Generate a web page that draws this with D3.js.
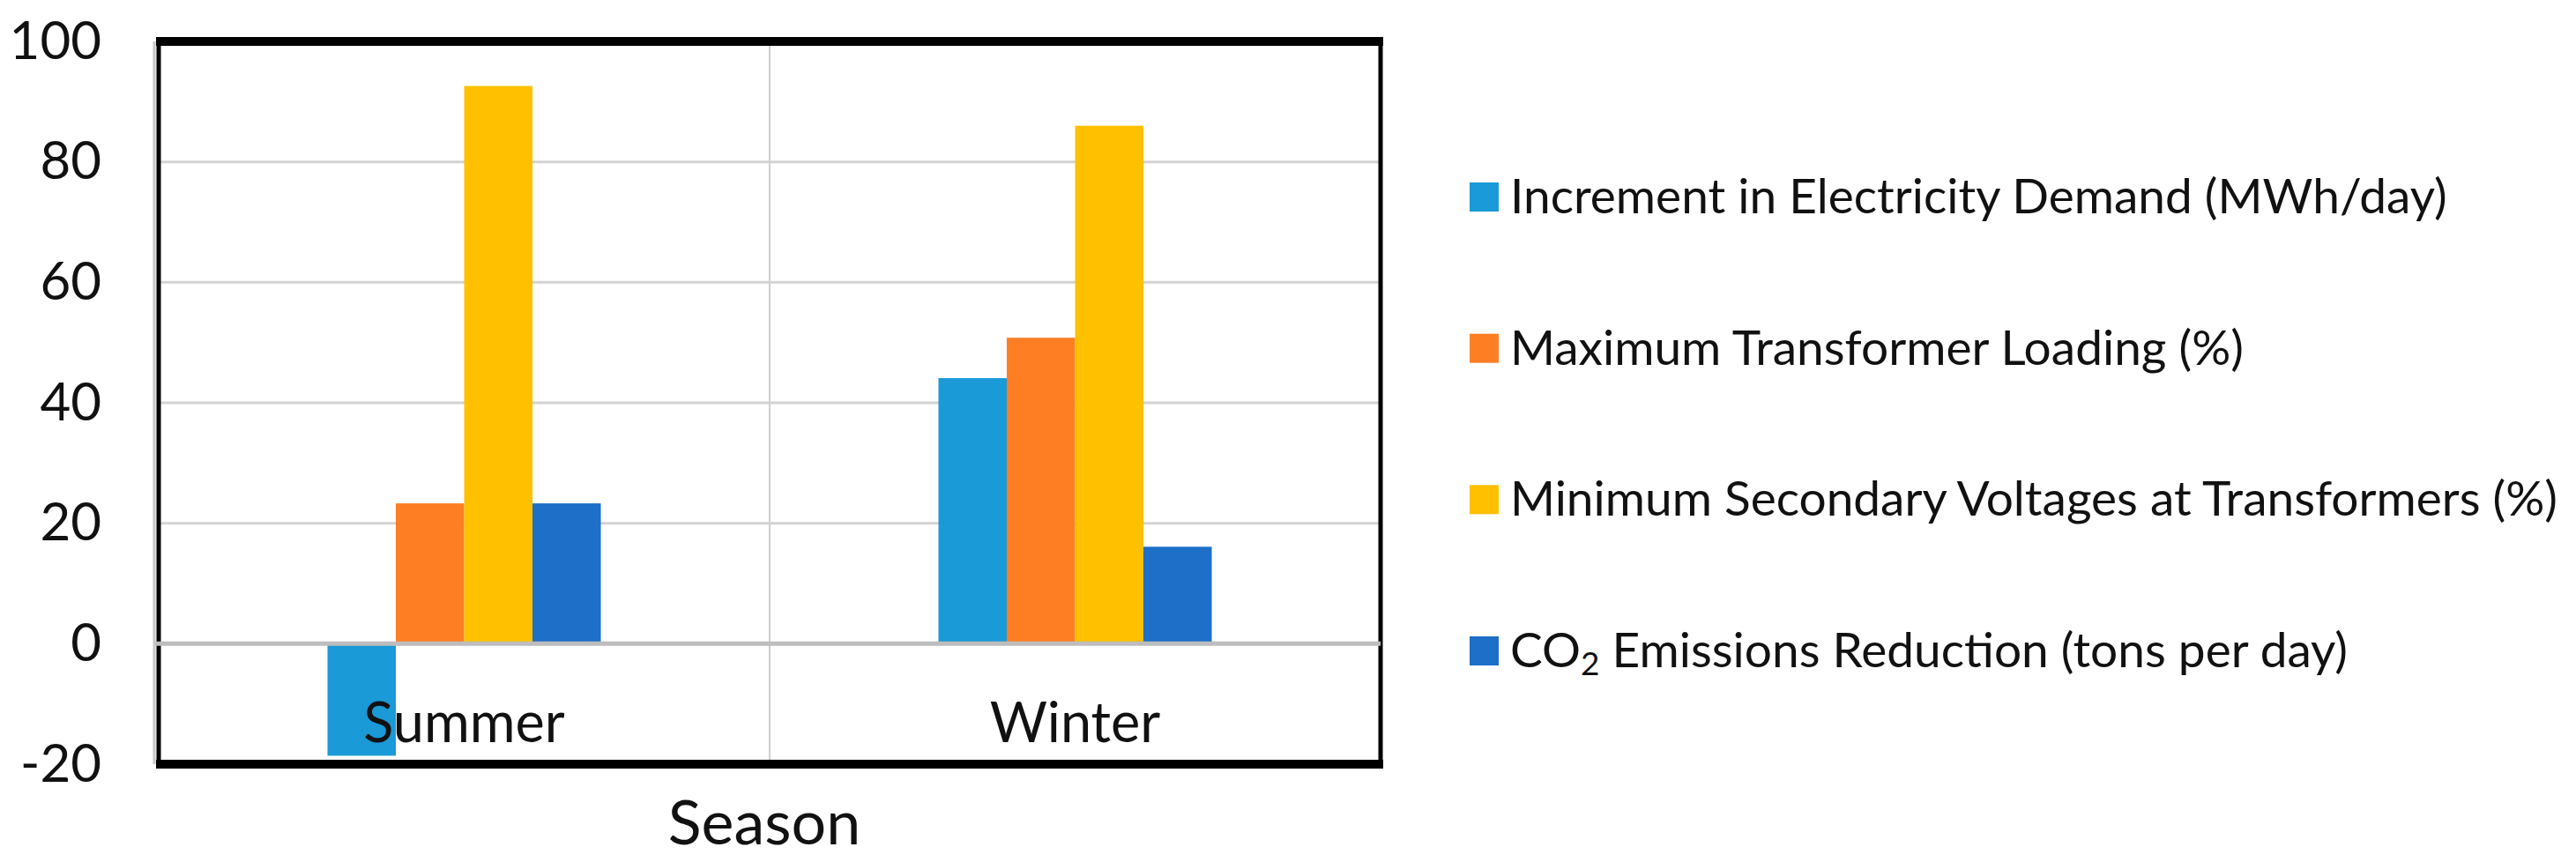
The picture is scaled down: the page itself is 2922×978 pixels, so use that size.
<!DOCTYPE html>
<html>
<head>
<meta charset="utf-8">
<script src="https://cdn.jsdelivr.net/npm/d3@7"></script>
<style>
  html, body { margin: 0; padding: 0; background: #ffffff; }
  svg { display: block; }
  text { font-family: Lato, "Open Sans", "Noto Sans", sans-serif; fill: #111; }
</style>
</head>
<body>
<svg id="chart" width="2922" height="978"></svg>
<script>
// ---- data ----
const categories = ["Summer", "Winter"];
const seriesNames = [
  "Increment in Electricity Demand (MWh/day)",
  "Maximum Transformer Loading (%)",
  "Minimum Secondary Voltages at Transformers (%)",
  "CO2 Emissions Reduction (tons per day)"
];
const incrementDemand   = [-18.6, 44.1];
const maxTransformer    = [23.3, 50.8];
const minSecondaryVolt  = [92.6, 86.0];
const co2Reduction      = [23.3, 16.1];
const yTickValues = [-20, 0, 20, 40, 60, 80, 100];
const xAxisTitle = "Season";
const seriesColors = ["#1A9AD7", "#FD7E23", "#FFC000", "#1D6FC8"];

const seriesValues = [incrementDemand, maxTransformer, minSecondaryVolt, co2Reduction];

// ---- layout ----
const svg = d3.select("#chart");
const plot = { left: 180, right: 1566, top: 47, bottom: 867 };
const groupWidth = 310;

const y = d3.scaleLinear().domain([-20, 100]).range([plot.bottom, plot.top]);
const x0 = d3.scaleBand().domain(categories).range([plot.left, plot.right]).padding(0);
const x1 = d3.scaleBand().domain(d3.range(seriesNames.length)).range([0, groupWidth]).padding(0);

// gridlines (excluding zero, drawn later)
svg.append("g").selectAll("line")
  .data(yTickValues.filter(v => v !== 0 && v !== 100 && v !== -20))
  .join("line")
  .attr("x1", plot.left).attr("x2", plot.right)
  .attr("y1", d => y(d)).attr("y2", d => y(d))
  .attr("stroke", "#d3d3d3").attr("stroke-width", 3);

// vertical category separator
svg.append("line")
  .attr("x1", x0("Winter")).attr("x2", x0("Winter"))
  .attr("y1", plot.top).attr("y2", plot.bottom)
  .attr("stroke", "#cfcfcf").attr("stroke-width", 2);

// bars
const barData = [];
categories.forEach((c, ci) => {
  seriesValues.forEach((vals, si) => barData.push({ c, si, v: vals[ci] }));
});
svg.append("g").selectAll("rect")
  .data(barData)
  .join("rect")
  .attr("x", d => x0(d.c) + (x0.bandwidth() - groupWidth) / 2 + x1(d.si))
  .attr("width", x1.bandwidth())
  .attr("y", d => y(Math.max(0, d.v)))
  .attr("height", d => Math.abs(y(d.v) - y(0)))
  .attr("fill", d => seriesColors[d.si]);

// plot border: thick top/bottom, thinner left/right
svg.append("line").attr("x1", plot.left - 3).attr("x2", plot.right + 3)
  .attr("y1", plot.top).attr("y2", plot.top).attr("stroke", "#000").attr("stroke-width", 10);
svg.append("line").attr("x1", plot.left - 3).attr("x2", plot.right + 3)
  .attr("y1", plot.bottom).attr("y2", plot.bottom).attr("stroke", "#000").attr("stroke-width", 10);
svg.append("line").attr("x1", plot.left - 5).attr("x2", plot.left - 5)
  .attr("y1", plot.top).attr("y2", plot.bottom).attr("stroke", "#c8c8c8").attr("stroke-width", 3);
svg.append("line").attr("x1", plot.left).attr("x2", plot.left)
  .attr("y1", plot.top).attr("y2", plot.bottom).attr("stroke", "#000").attr("stroke-width", 5);
svg.append("line").attr("x1", plot.right).attr("x2", plot.right)
  .attr("y1", plot.top).attr("y2", plot.bottom).attr("stroke", "#000").attr("stroke-width", 5);

// zero line
svg.append("line")
  .attr("x1", plot.left - 4).attr("x2", plot.right)
  .attr("y1", y(0)).attr("y2", y(0))
  .attr("stroke", "#bdbdbd").attr("stroke-width", 5);

// y axis labels
const yAxis = d3.axisLeft(y).tickValues(yTickValues).tickSize(0).tickPadding(65).tickFormat(d => String(d));
const yg = svg.append("g").attr("transform", `translate(${plot.left},0)`).call(yAxis);
yg.select(".domain").remove();
yg.selectAll("text").attr("font-size", 60).style("font-family", "Lato, sans-serif").attr("fill", "#111");

// category labels
svg.append("g").selectAll("text")
  .data(categories)
  .join("text")
  .attr("x", d => x0(d) + x0.bandwidth() / 2)
  .attr("y", 842)
  .attr("text-anchor", "middle")
  .attr("font-size", 63)
  .text(d => d);

// axis title
svg.append("text")
  .attr("x", (plot.left + plot.right) / 2 - 6)
  .attr("y", 958)
  .attr("text-anchor", "middle")
  .attr("font-size", 70)
  .text(xAxisTitle);

// legend
const legend = svg.append("g").attr("transform", "translate(1667,0)");
const legendY = d3.scalePoint().domain(d3.range(seriesNames.length)).range([224, 739]);
const items = legend.selectAll("g").data(seriesNames).join("g")
  .attr("transform", (d, i) => `translate(0,${legendY(i)})`);
items.append("rect").attr("x", 0).attr("y", -17).attr("width", 33).attr("height", 33)
  .attr("fill", (d, i) => seriesColors[i]);
items.append("text")
  .attr("x", 46).attr("y", 18)
  .attr("font-size", 55)
  .each(function(d) {
    const t = d3.select(this);
    const m = d.match(/^CO2(.*)$/);
    if (m) {
      t.append("tspan").text("CO");
      t.append("tspan").attr("font-size", 37).attr("dy", 9).text("2");
      t.append("tspan").attr("dy", -9).text(m[1]);
    } else {
      t.text(d);
    }
  });
</script>
</body>
</html>
